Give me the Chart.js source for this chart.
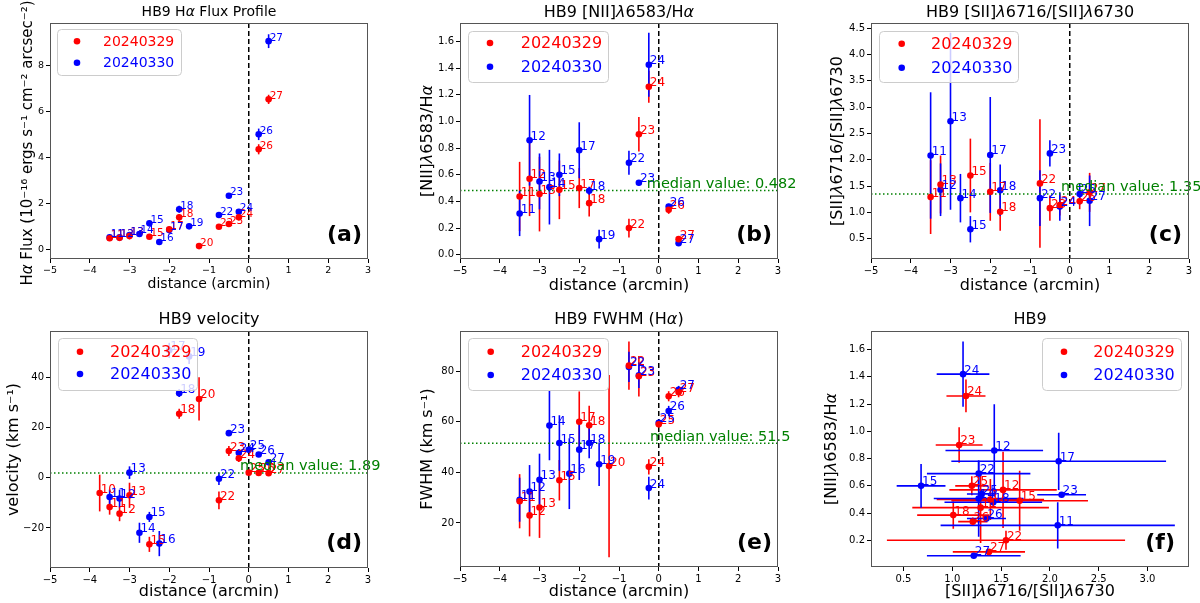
<!DOCTYPE html>
<html>
<head>
<meta charset="utf-8">
<script src="https://cdn.jsdelivr.net/npm/chart.js@4.4.1/dist/chart.umd.min.js"></script>
<style>
  body { margin: 0; background: #fff; }
  #wrap { position: relative; width: 1200px; height: 603px; }
  canvas { position: absolute; }
</style>
</head>
<body>
<div id="wrap">
  <canvas id="pa" width="400" height="300" style="left:0;top:0"></canvas>
  <canvas id="pb" width="400" height="300" style="left:400px;top:0"></canvas>
  <canvas id="pc" width="400" height="300" style="left:800px;top:0"></canvas>
  <canvas id="pd" width="400" height="303" style="left:0;top:300px"></canvas>
  <canvas id="pe" width="400" height="303" style="left:400px;top:300px"></canvas>
  <canvas id="pf" width="400" height="303" style="left:800px;top:300px"></canvas>
</div>
<script>
// rows: [label, distance, value, error]
const fluxRed = [
    [11, -3.5, 0.48, 0.12], [12, -3.25, 0.50, 0.12], [13, -3.0, 0.58, 0.15],
    [15, -2.5, 0.55, 0.10], [17, -2.0, 0.87, 0.10], [18, -1.75, 1.39, 0.15],
    [20, -1.25, 0.14, 0.05], [22, -0.75, 0.98, 0.08], [23, -0.5, 1.10, 0.10],
    [24, -0.25, 1.39, 0.12], [26, 0.25, 4.35, 0.22], [27, 0.5, 6.52, 0.20]
];
const fluxBlue = [
    [11, -3.5, 0.52, 0.08], [12, -3.25, 0.52, 0.10], [13, -3.0, 0.62, 0.08],
    [14, -2.75, 0.67, 0.10], [15, -2.5, 1.13, 0.12], [16, -2.25, 0.32, 0.06],
    [17, -2.0, 0.84, 0.15], [18, -1.75, 1.74, 0.15], [19, -1.5, 1.00, 0.12],
    [22, -0.75, 1.49, 0.08], [23, -0.5, 2.33, 0.06], [24, -0.25, 1.63, 0.12],
    [26, 0.25, 5.00, 0.25], [27, 0.5, 9.05, 0.30]
];

const niiRed = [
    [11, -3.5, 0.437, 0.26], [12, -3.25, 0.57, 0.28], [13, -3.0, 0.455, 0.28],
    [15, -2.5, 0.487, 0.22], [17, -2.0, 0.50, 0.15], [18, -1.75, 0.387, 0.10],
    [22, -0.75, 0.20, 0.07], [23, -0.5, 0.904, 0.13], [24, -0.25, 1.26, 0.12],
    [26, 0.25, 0.337, 0.03], [27, 0.5, 0.117, 0.02]
];
const niiBlue = [
    [11, -3.5, 0.31, 0.17], [12, -3.25, 0.859, 0.34], [13, -3.0, 0.55, 0.21],
    [14, -2.75, 0.507, 0.28], [15, -2.5, 0.60, 0.16], [17, -2.0, 0.784, 0.21],
    [18, -1.75, 0.48, 0.03], [19, -1.5, 0.117, 0.07], [22, -0.75, 0.69, 0.09],
    [23, -0.5, 0.54, 0.02], [24, -0.25, 1.426, 0.24], [26, 0.25, 0.362, 0.02],
    [27, 0.5, 0.087, 0.02]
];
const niiMedian = 0.482;

const siiRed = [
    [11, -3.5, 1.29, 0.70], [13, -3.25, 1.53, 0.55], [15, -2.5, 1.70, 0.70],
    [17, -2.0, 1.39, 0.55], [18, -1.75, 1.01, 0.36], [22, -0.75, 1.55, 1.22],
    [23, -0.5, 1.08, 0.24], [24, -0.25, 1.14, 0.20], [26, 0.25, 1.21, 0.15],
    [27, 0.5, 1.38, 0.37]
];
const siiBlue = [
    [11, -3.5, 2.08, 1.20], [12, -3.25, 1.43, 0.50], [13, -3.0, 2.73, 1.68],
    [14, -2.75, 1.27, 0.46], [15, -2.5, 0.68, 0.25], [17, -2.0, 2.09, 1.10],
    [18, -1.75, 1.42, 0.49], [22, -0.75, 1.27, 0.53], [23, -0.5, 2.12, 0.25],
    [24, -0.25, 1.11, 0.27], [26, 0.25, 1.35, 0.20], [27, 0.5, 1.22, 0.48]
];
const siiMedian = 1.35;

const velRed = [
    [10, -3.75, -6.1, 7.3], [11, -3.5, -11.7, 3.0], [12, -3.25, -14.3, 3.0],
    [13, -3.0, -7.0, 5.0], [15, -2.5, -26.5, 3.0], [18, -1.75, 25.4, 2.0],
    [20, -1.25, 31.3, 8.6], [22, -0.75, -9.0, 3.5], [23, -0.5, 10.6, 2.0],
    [24, -0.25, 7.7, 1.5], [25, 0.0, 2.0, 1.0], [26, 0.25, 1.9, 1.0],
    [27, 0.5, 1.8, 1.0]
];
const velBlue = [
    [11, -3.5, -7.7, 3.0], [12, -3.25, -8.3, 3.5], [13, -3.0, 2.0, 2.5],
    [14, -2.75, -21.9, 4.0], [15, -2.5, -15.6, 2.0], [16, -2.25, -26.2, 5.0],
    [17, -2.0, 50.6, 3.0], [18, -1.75, 33.6, 1.5], [19, -1.5, 48.2, 3.0],
    [22, -0.75, -0.4, 2.5], [23, -0.5, 17.7, 1.0], [24, -0.25, 9.9, 1.5],
    [25, 0.0, 11.1, 1.5], [26, 0.25, 9.2, 1.0], [27, 0.5, 6.1, 1.0]
];
const velMedian = 1.89;

const fwhmRed = [
    [11, -3.5, 28.6, 10.7], [12, -3.25, 23.0, 8.3], [13, -3.0, 26.1, 12.0],
    [15, -2.5, 36.9, 8.0], [17, -2.0, 60.0, 12.0], [18, -1.75, 58.6, 7.7],
    [20, -1.25, 42.5, 36.0], [22, -0.75, 82.2, 9.5], [23, -0.5, 78.0, 8.0],
    [24, -0.25, 42.2, 3.0], [25, 0.0, 59.0, 1.0], [26, 0.25, 70.1, 2.0],
    [27, 0.5, 71.7, 2.0]
];
const fwhmBlue = [
    [11, -3.5, 29.2, 8.7], [12, -3.25, 32.4, 10.5], [13, -3.0, 37.1, 10.3],
    [14, -2.75, 58.5, 13.7], [15, -2.5, 51.6, 11.0], [16, -2.25, 39.5, 14.0],
    [17, -2.0, 49.0, 12.0], [18, -1.75, 51.6, 6.0], [19, -1.5, 43.2, 8.6],
    [22, -0.75, 81.7, 6.0], [23, -0.5, 78.4, 5.0], [24, -0.25, 33.8, 4.5],
    [25, 0.0, 59.6, 1.5], [26, 0.25, 64.3, 2.0], [27, 0.5, 72.7, 1.5]
];
const fwhmMedian = 51.5;

// rows: [label, SII ratio, SII error, NII/Ha, NII/Ha error]
const diagRed = [
    [24, 1.14, 0.20, 1.26, 0.12], [23, 1.07, 0.24, 0.90, 0.13], [25, 1.20, 0.17, 0.60, 0.07],
    [12, 1.52, 0.55, 0.57, 0.28], [15, 1.69, 0.70, 0.49, 0.22], [17, 1.39, 0.55, 0.50, 0.15],
    [11, 1.29, 0.70, 0.44, 0.26], [18, 1.01, 0.37, 0.385, 0.10], [26, 1.21, 0.15, 0.337, 0.03],
    [22, 1.55, 1.22, 0.20, 0.07], [27, 1.375, 0.37, 0.115, 0.02]
];
const diagBlue = [
    [24, 1.11, 0.27, 1.42, 0.24], [12, 1.43, 0.50, 0.86, 0.34], [17, 2.09, 1.10, 0.78, 0.21],
    [22, 1.27, 0.53, 0.69, 0.09], [15, 0.68, 0.25, 0.60, 0.16], [23, 2.12, 0.25, 0.535, 0.02],
    [25, 1.30, 0.15, 0.54, 0.03], [14, 1.27, 0.46, 0.507, 0.28], [18, 1.42, 0.50, 0.48, 0.03],
    [26, 1.35, 0.20, 0.36, 0.02], [11, 2.08, 1.20, 0.31, 0.17], [27, 1.22, 0.48, 0.087, 0.02]
];

const distTicks = [-5, -4, -3, -2, -1, 0, 1, 2, 3];
const fluxTicks = [0, 2, 4, 6, 8];
const niiTicks = [0.0, 0.2, 0.4, 0.6, 0.8, 1.0, 1.2, 1.4, 1.6];
const siiTicks = [0.5, 1.0, 1.5, 2.0, 2.5, 3.0, 3.5, 4.0, 4.5];
const velTicks = [-20, 0, 20, 40];
const fwhmTicks = [20, 40, 60, 80];
const diagXTicks = [0.5, 1.0, 1.5, 2.0, 2.5, 3.0];
const diagYTicks = [0.2, 0.4, 0.6, 0.8, 1.0, 1.2, 1.4, 1.6];

const seriesNames = ['20240329', '20240330'];
const RED = '#ff0000';
const BLUE = '#0000ff';
const FONT = "'DejaVu Sans', sans-serif";

function fmt(v, dec) {
    return v.toFixed(dec).replace('-', '\u2212');
}

function toPoints(rows, xy) {
    if (xy) return rows.map(r => ({ label: r[0], x: r[1], xe: r[2], y: r[3], ye: r[4] }));
    return rows.map(r => ({ label: r[0], x: r[1], xe: 0, y: r[2], ye: r[3] }));
}

// greek letters in italic, like matplotlib mathtext
function drawRich(ctx, text, x, y, size) {
    const parts = text.split(/([\u03b1\u03bb])/).filter(s => s);
    const fontFor = s => (/[\u03b1\u03bb]/.test(s) ? 'italic ' : '') + `${size}px ${FONT}`;
    let total = 0;
    parts.forEach(s => { ctx.font = fontFor(s); total += ctx.measureText(s).width; });
    let cx = x - total / 2;
    ctx.textAlign = 'left';
    parts.forEach(s => {
        ctx.font = fontFor(s);
        ctx.fillText(s, cx, y);
        cx += ctx.measureText(s).width;
    });
}

const decor = {
    id: 'decor',
    beforeDatasetsDraw(chart) {
        const p = chart.options.plugins.decor;
        const ctx = chart.ctx, xs = chart.scales.x, ys = chart.scales.y, a = chart.chartArea;
        ctx.save();
        ctx.lineWidth = 1.6;
        chart.data.datasets.forEach(ds => {
            ctx.strokeStyle = ds.backgroundColor;
            ds.data.forEach(pt => {
                const px = xs.getPixelForValue(pt.x), py = ys.getPixelForValue(pt.y);
                ctx.beginPath();
                if (pt.ye) {
                    ctx.moveTo(px, ys.getPixelForValue(pt.y - pt.ye));
                    ctx.lineTo(px, ys.getPixelForValue(pt.y + pt.ye));
                }
                if (pt.xe) {
                    ctx.moveTo(xs.getPixelForValue(pt.x - pt.xe), py);
                    ctx.lineTo(xs.getPixelForValue(pt.x + pt.xe), py);
                }
                ctx.stroke();
            });
        });
        if (p.zeroLine) {
            const zx = xs.getPixelForValue(0);
            ctx.strokeStyle = '#000';
            ctx.lineWidth = 1.5;
            ctx.setLineDash([5, 3]);
            ctx.beginPath();
            ctx.moveTo(zx, a.top);
            ctx.lineTo(zx, a.bottom);
            ctx.stroke();
        }
        if (p.median !== undefined) {
            const my = ys.getPixelForValue(p.median);
            ctx.strokeStyle = '#008000';
            ctx.lineWidth = 1.5;
            ctx.setLineDash([1.5, 2.5]);
            ctx.beginPath();
            ctx.moveTo(a.left, my);
            ctx.lineTo(a.right, my);
            ctx.stroke();
        }
        ctx.restore();
    },
    afterDatasetsDraw(chart) {
        const p = chart.options.plugins.decor;
        const ctx = chart.ctx, xs = chart.scales.x, ys = chart.scales.y;
        ctx.save();
        ctx.font = `${p.labSize}px ${FONT}`;
        ctx.textAlign = 'left';
        ctx.textBaseline = 'alphabetic';
        chart.data.datasets.forEach(ds => {
            ctx.fillStyle = ds.backgroundColor;
            ds.data.forEach(pt => {
                ctx.fillText(String(pt.label), xs.getPixelForValue(pt.x) + 1, ys.getPixelForValue(pt.y) - 0.5);
            });
        });
        if (p.median !== undefined) {
            ctx.fillStyle = '#008000';
            ctx.font = `${p.medSize}px ${FONT}`;
            ctx.fillText('median value: ' + p.median, xs.getPixelForValue(p.medX), ys.getPixelForValue(p.median) - 2.5);
        }
        ctx.restore();
    },
    afterDraw(chart) {
        const p = chart.options.plugins.decor;
        const ctx = chart.ctx, a = chart.chartArea;
        const ox = p.cx, oy = p.cy;
        ctx.save();
        // frame
        ctx.strokeStyle = '#555';
        ctx.lineWidth = 1;
        ctx.strokeRect(a.left + 0.5, a.top + 0.5, a.right - a.left - 1, a.bottom - a.top - 1);
        // legend
        const L = p.legend;
        ctx.fillStyle = 'rgba(255,255,255,0.8)';
        ctx.strokeStyle = '#cccccc';
        ctx.beginPath();
        ctx.roundRect(L.x0 - ox + 0.5, L.y0 - oy + 0.5, L.x1 - L.x0, L.y1 - L.y0, 4);
        ctx.fill();
        ctx.stroke();
        ctx.font = `${L.size}px ${FONT}`;
        ctx.textBaseline = 'middle';
        ctx.textAlign = 'left';
        [RED, BLUE].forEach((c, i) => {
            ctx.fillStyle = c;
            ctx.beginPath();
            ctx.arc(L.dot - ox, L.rows[i] - oy, 3.3, 0, Math.PI * 2);
            ctx.fill();
            ctx.fillText(seriesNames[i], L.text - ox, L.rows[i] - oy + 1);
        });
        // panel letter
        ctx.fillStyle = '#000';
        ctx.font = `bold 22px ${FONT}`;
        ctx.textAlign = 'right';
        ctx.textBaseline = 'alphabetic';
        ctx.fillText(p.letter, p.letterX - ox, p.letterY - oy);
        // title and axis labels
        const cxm = (a.left + a.right) / 2;
        const cym = p.ylabelY !== undefined ? p.ylabelY - oy : (a.top + a.bottom) / 2;
        ctx.textBaseline = 'middle';
        drawRich(ctx, p.title, cxm, p.titleY - oy, p.size);
        drawRich(ctx, p.xlabel, cxm, p.xlabelY - oy, p.size);
        ctx.translate(p.ylabelX - ox, cym);
        ctx.rotate(-Math.PI / 2);
        drawRich(ctx, p.ylabel, 0, 0, p.ySize || p.size);
        ctx.restore();
    }
};

function buildPanel(p) {
    const yAxisW = p.area.l - p.cx;
    const xAxisH = p.cy + p.ch - p.area.b;
    const tickFont = { family: FONT, size: p.tickSize };
    const grid = { drawOnChartArea: false, drawTicks: true, tickLength: 4, color: '#000' };
    return new Chart(document.getElementById(p.id), {
        type: 'scatter',
        data: {
            datasets: [
                { data: toPoints(p.red, p.xy), backgroundColor: RED, borderWidth: 0, pointRadius: 3.3 },
                { data: toPoints(p.blue, p.xy), backgroundColor: BLUE, borderWidth: 0, pointRadius: 3.3 }
            ]
        },
        options: {
            responsive: false,
            animation: false,
            events: [],
            layout: { padding: { left: 0, top: p.area.t - p.cy, right: p.cx + p.cw - p.area.r, bottom: 0 } },
            plugins: { legend: { display: false }, tooltip: { enabled: false }, decor: p },
            scales: {
                x: {
                    type: 'linear', min: p.xmin, max: p.xmax,
                    afterFit: s => { s.height = xAxisH; },
                    afterBuildTicks: s => { s.ticks = p.xticks.map(v => ({ value: v })); },
                    ticks: { callback: v => fmt(v, p.xdec), font: tickFont, color: '#000', padding: 2, maxRotation: 0, autoSkip: false },
                    grid, border: { display: false }
                },
                y: {
                    type: 'linear', min: p.ymin, max: p.ymax,
                    afterFit: s => { s.width = yAxisW; },
                    afterBuildTicks: s => { s.ticks = p.yticks.map(v => ({ value: v })); },
                    ticks: { callback: v => fmt(v, p.ydec), font: tickFont, color: '#000', padding: 2, autoSkip: false },
                    grid, border: { display: false }
                }
            }
        },
        plugins: [decor]
    });
}

const topRow = { cy: 0, ch: 300, titleY: 13, xlabelY: 285.5, size: 16, labSize: 12, medSize: 14.5, tickSize: 10, letterY: 241 };
const botRow = { cy: 300, ch: 303, titleY: 320, xlabelY: 592, size: 16, labSize: 12, medSize: 14.5, tickSize: 10, letterY: 549 };

buildPanel(Object.assign({}, topRow, {
    id: 'pa', cx: 0, cw: 400, area: { l: 50, t: 23, r: 368, b: 259 },
    red: fluxRed, blue: fluxBlue, zeroLine: true,
    xmin: -5, xmax: 3, ymin: -0.42, ymax: 9.84, xticks: distTicks, yticks: fluxTicks, xdec: 0, ydec: 0,
    title: 'HB9 H\u03b1 Flux Profile', xlabel: 'distance (arcmin)',
    ylabel: 'H\u03b1 Flux (10\u207b\u00b9\u2076 ergs s\u207b\u00b9 cm\u207b\u00b2 arcsec\u207b\u00b2)',
    size: 14, ySize: 15, labSize: 10.5, tickSize: 9.5, titleY: 12.5, xlabelY: 284, ylabelX: 28, ylabelY: 143,
    letter: '(a)', letterX: 362,
    legend: { x0: 57, y0: 29, x1: 181, y1: 75, dot: 77, text: 103, rows: [41.3, 62.7], size: 14 }
}));

buildPanel(Object.assign({}, topRow, {
    id: 'pb', cx: 400, cw: 400, area: { l: 460, t: 23, r: 778, b: 259 },
    red: niiRed, blue: niiBlue, zeroLine: true, median: niiMedian, medX: -0.3,
    xmin: -5, xmax: 3, ymin: -0.032, ymax: 1.739, xticks: distTicks, yticks: niiTicks, xdec: 0, ydec: 1,
    title: 'HB9 [NII]\u03bb6583/H\u03b1', xlabel: 'distance (arcmin)', ylabel: '[NII]\u03bb6583/H\u03b1',
    ylabelX: 428, letter: '(b)', letterX: 772,
    legend: { x0: 468, y0: 31, x1: 608, y1: 82, dot: 490, text: 520.7, rows: [43, 66.7], size: 16 }
}));

buildPanel(Object.assign({}, topRow, {
    id: 'pc', cx: 800, cw: 400, area: { l: 871, t: 23, r: 1189, b: 259 },
    red: siiRed, blue: siiBlue, zeroLine: true, median: siiMedian, medX: -0.22,
    xmin: -5, xmax: 3, ymin: 0.115, ymax: 4.595, xticks: distTicks, yticks: siiTicks, xdec: 0, ydec: 1,
    title: 'HB9 [SII]\u03bb6716/[SII]\u03bb6730', xlabel: 'distance (arcmin)', ylabel: '[SII]\u03bb6716/[SII]\u03bb6730',
    ylabelX: 838, letter: '(c)', letterX: 1182,
    legend: { x0: 879, y0: 31, x1: 1018, y1: 82, dot: 901.7, text: 931, rows: [43.7, 67.7], size: 16 }
}));

buildPanel(Object.assign({}, botRow, {
    id: 'pd', cx: 0, cw: 400, area: { l: 50, t: 331, r: 368, b: 568 },
    red: velRed, blue: velBlue, zeroLine: true, median: velMedian, medX: -0.22,
    xmin: -5, xmax: 3, ymin: -35.9, ymax: 58.3, xticks: distTicks, yticks: velTicks, xdec: 0, ydec: 0,
    title: 'HB9 velocity', xlabel: 'distance (arcmin)', ylabel: 'velocity (km s\u207b\u00b9)',
    ylabelX: 14, letter: '(d)', letterX: 362,
    legend: { x0: 58, y0: 338, x1: 197, y1: 390, dot: 80, text: 110, rows: [351.7, 374], size: 16 }
}));

buildPanel(Object.assign({}, botRow, {
    id: 'pe', cx: 400, cw: 400, area: { l: 460, t: 331, r: 778, b: 567 },
    red: fwhmRed, blue: fwhmBlue, zeroLine: true, median: fwhmMedian, medX: -0.22,
    xmin: -5, xmax: 3, ymin: 2.6, ymax: 95.9, xticks: distTicks, yticks: fwhmTicks, xdec: 0, ydec: 0,
    title: 'HB9 FWHM (H\u03b1)', xlabel: 'distance (arcmin)', ylabel: 'FWHM (km s\u207b\u00b9)',
    ylabelX: 428, letter: '(e)', letterX: 772,
    legend: { x0: 468, y0: 338, x1: 608, y1: 390, dot: 490.7, text: 520.7, rows: [351.7, 375], size: 16 }
}));

buildPanel(Object.assign({}, botRow, {
    id: 'pf', cx: 800, cw: 400, area: { l: 871, t: 331, r: 1189, b: 567 },
    red: diagRed, blue: diagBlue, xy: true, zeroLine: false,
    xmin: 0.167, xmax: 3.425, ymin: 0.004, ymax: 1.737, xticks: diagXTicks, yticks: diagYTicks, xdec: 1, ydec: 1,
    title: 'HB9', xlabel: '[SII]\u03bb6716/[SII]\u03bb6730', ylabel: '[NII]\u03bb6583/H\u03b1',
    ylabelX: 832, letter: '(f)', letterX: 1175,
    legend: { x0: 1042, y0: 338, x1: 1181, y1: 390, dot: 1064, text: 1093.3, rows: [351.7, 375], size: 16 }
}));
</script>
</body>
</html>
